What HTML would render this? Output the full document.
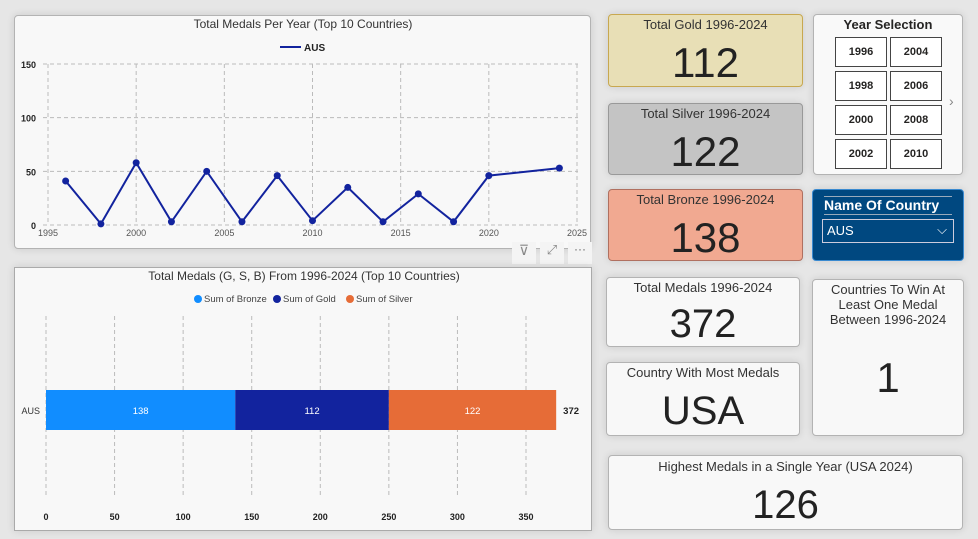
<!DOCTYPE html>
<html><head><meta charset="utf-8"><style>
body{margin:0;width:978px;height:539px;background:#e6e6e6;font-family:"Liberation Sans",sans-serif;position:relative;overflow:hidden;color:#252423}
.card{position:absolute;box-sizing:border-box;border:1px solid #b3b3b3;border-radius:4px;background:#f8f8f8;text-align:center;box-shadow:0 0 8px rgba(0,0,0,.12)}
.t{font-size:13px;margin-top:2px;color:#333}
.v{position:absolute;left:0;right:0;color:#222}
.yb{position:absolute;width:52px;height:30px;border:1px solid #444;box-sizing:border-box;background:#fff;font-size:11px;font-weight:bold;line-height:28px;text-align:center}
svg text{font-family:"Liberation Sans",sans-serif}
</style></head><body>

<div class="card" style="left:14px;top:15px;width:577px;height:234px">
<svg id="line" width="577" height="234"></svg></div>

<div style="position:absolute;left:512px;top:242px;width:80px;height:22px">
<div style="position:absolute;left:0;width:24px;height:22px;background:#f4f4f4;color:#888;font-size:14px;text-align:center">⊽</div>
<div style="position:absolute;left:28px;width:24px;height:22px;background:#f4f4f4;color:#888;font-size:13px;text-align:center">⤢</div>
<div style="position:absolute;left:56px;width:24px;height:22px;background:#f4f4f4;color:#666;font-size:12px;text-align:center">···</div>
</div>

<div class="card" style="left:14px;top:267px;width:578px;height:264px;border-radius:0;border-color:#aaa">
<svg id="bar" width="578" height="264"></svg></div>

<div class="card" style="left:608px;top:14px;width:195px;height:73px;background:#e8dfb6;border-color:#c8a850">
<div class="t">Total Gold 1996-2024</div>
<div class="v" style="top:24px;font-size:42px">112</div></div>
<div class="card" style="left:608px;top:103px;width:195px;height:72px;background:#c4c4c4;border-color:#999">
<div class="t">Total Silver 1996-2024</div>
<div class="v" style="top:24px;font-size:42px">122</div></div>
<div class="card" style="left:608px;top:189px;width:195px;height:72px;background:#f1a991;border-color:#b07060">
<div class="t">Total Bronze 1996-2024</div>
<div class="v" style="top:24px;font-size:42px">138</div></div>

<div class="card" style="left:813px;top:14px;width:150px;height:161px;background:#f9f9f9">
<div style="font-size:13px;font-weight:bold;margin-top:2px">Year Selection</div>
<div class="yb" style="left:21px;top:22px">1996</div>
<div class="yb" style="left:76px;top:22px">2004</div>
<div class="yb" style="left:21px;top:56px">1998</div>
<div class="yb" style="left:76px;top:56px">2006</div>
<div class="yb" style="left:21px;top:90px">2000</div>
<div class="yb" style="left:76px;top:90px">2008</div>
<div class="yb" style="left:21px;top:124px">2002</div>
<div class="yb" style="left:76px;top:124px">2010</div>
<div style="position:absolute;left:135px;top:78px;color:#888;font-size:14px">›</div>
</div>

<div class="card" style="left:812px;top:189px;width:152px;height:72px;background:#004880;border-color:#3a8ad0">
<div style="position:absolute;left:11px;top:6px;width:128px;border-top:1px solid #9ab;border-bottom:1px solid #9ab;color:#fff;font-weight:bold;font-size:14px;text-align:left;line-height:17px">Name Of Country</div>
<div style="position:absolute;left:9px;top:29px;width:132px;height:24px;border:1px solid #ccd;box-sizing:border-box;color:#fff;font-size:13px;text-align:left;line-height:22px;padding-left:4px">AUS<span style="position:absolute;right:6px;top:-1px">⌵</span></div>
</div>

<div class="card" style="left:606px;top:277px;width:194px;height:70px">
<div class="t">Total Medals 1996-2024</div>
<div class="v" style="top:24px;font-size:40px">372</div></div>
<div class="card" style="left:606px;top:362px;width:194px;height:74px">
<div class="t">Country With Most Medals</div>
<div class="v" style="top:26px;font-size:40px">USA</div></div>
<div class="card" style="left:812px;top:279px;width:152px;height:157px">
<div class="t" style="line-height:15px;padding:0 8px">Countries To Win At Least One Medal Between 1996-2024</div>
<div class="v" style="top:74px;font-size:42px">1</div></div>
<div class="card" style="left:608px;top:455px;width:355px;height:75px">
<div class="t" style="margin-top:3px">Highest Medals in a Single Year (USA 2024)</div>
<div class="v" style="top:27px;font-size:40px">126</div></div>

<script>
const years=[1996,1998,2000,2002,2004,2006,2008,2010,2012,2014,2016,2018,2020,2024];
const medals=[41,1,58,3,50,3,46,4,35,3,29,3,46,53];
const yTicks=[0,50,100,150];
const xTicks=[1995,2000,2005,2010,2015,2020,2025];
const barCategory=["AUS"];
const seriesNames=["Sum of Bronze","Sum of Gold","Sum of Silver"];
const bronze=[138];
const gold=[112];
const silver=[122];
const barTicks=[0,50,100,150,200,250,300,350];
const NS="http://www.w3.org/2000/svg";
function mk(p,t,a,txt){const e=document.createElementNS(NS,t);for(const k in a)e.setAttribute(k,a[k]);if(txt!==undefined)e.textContent=txt;p.appendChild(e);return e;}
const L=document.getElementById('line');
const lx=v=>33+(v-1995)*(562-33)/30;
const ly=v=>209-v*(209-48)/150;
let e=mk(L,'text',{x:288,y:12,'text-anchor':'middle','font-size':12,fill:'#333'},'Total Medals Per Year (Top 10 Countries)');

e=mk(L,'line',{x1:265,x2:286,y1:31,y2:31,stroke:'#12239e','stroke-width':2});

e=mk(L,'text',{x:289,y:35,'font-size':10,'font-weight':'bold',fill:'#222'},'AUS');

yTicks.forEach(t=>{e=mk(L,'line',{x1:28,x2:563,y1:ly(t),y2:ly(t),stroke:'#bbb','stroke-dasharray':'4 3'});

e=mk(L,'text',{x:21,y:ly(t)+4,'text-anchor':'end','font-size':9,'font-weight':'bold',fill:'#222'},t);
});
xTicks.forEach(t=>{e=mk(L,'line',{x1:lx(t),x2:lx(t),y1:ly(150),y2:ly(0),stroke:'#bbb','stroke-dasharray':'4 3'});

e=mk(L,'text',{x:lx(t),y:ly(0)+11,'text-anchor':'middle','font-size':9,fill:'#555'},t);
});
e=mk(L,'polyline',{points:years.map((y,i)=>lx(y)+','+ly(medals[i])).join(' '),fill:'none',stroke:'#12239e','stroke-width':2});

years.forEach((y,i)=>{e=mk(L,'circle',{cx:lx(y),cy:ly(medals[i]),r:3.5,fill:'#12239e'});
});
const B=document.getElementById('bar');
const bx=v=>31+v*(511-31)/350;
e=mk(B,'text',{x:289,y:12,'text-anchor':'middle','font-size':12,fill:'#333'},'Total Medals (G, S, B) From 1996-2024 (Top 10 Countries)');

const cols=['#118dff','#12239e','#e66c37'];
const lgx=[179,258,331];
seriesNames.forEach((n,i)=>{e=mk(B,'circle',{cx:lgx[i]+4,cy:31,r:4,fill:cols[i]});

e=mk(B,'text',{x:lgx[i]+10,y:34,'font-size':9.5,fill:'#444'},n);
});
barTicks.forEach(t=>{e=mk(B,'line',{x1:bx(t),x2:bx(t),y1:48,y2:230,stroke:'#bbb','stroke-dasharray':'4 3'});

e=mk(B,'text',{x:bx(t),y:252,'text-anchor':'middle','font-size':9,'font-weight':'bold',fill:'#222'},t);
});
const series=[bronze,gold,silver];
barCategory.forEach((c,ci)=>{let acc=0;
e=mk(B,'text',{x:25,y:146,'text-anchor':'end','font-size':9,fill:'#333'},c);

series.forEach((s,si)=>{const v=s[ci];
e=mk(B,'rect',{x:bx(acc),y:122,width:bx(acc+v)-bx(acc),height:40,fill:cols[si]});

e=mk(B,'text',{x:(bx(acc)+bx(acc+v))/2,y:146,'text-anchor':'middle','font-size':9.5,fill:'#fff'},v);

acc+=v;});
e=mk(B,'text',{x:bx(acc)+7,y:146,'font-size':9.5,'font-weight':'bold',fill:'#222'},acc);
});
</script>
</body></html>
